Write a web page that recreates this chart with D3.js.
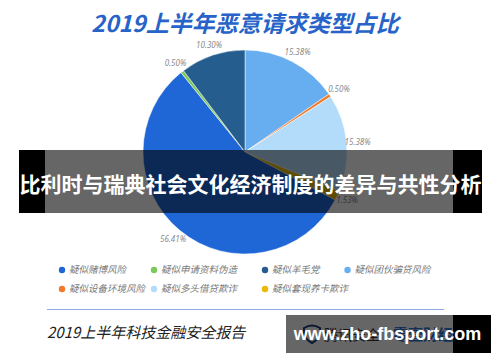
<!DOCTYPE html>
<html>
<head>
<meta charset="utf-8">
<script src="https://cdn.jsdelivr.net/npm/d3@7"></script>
<style>
  body { margin: 0; background: #fff; }
  svg { display: block; }
</style>
</head>
<body>
<script>
// slices, clockwise from 12 o'clock
var categories = ['疑似团伙骗贷风险', '疑似设备环境风险', '疑似多头借贷欺诈', '疑似套现养卡欺诈', '疑似赌博风险', '疑似申请资料伪造', '疑似羊毛党'];
var values = [15.38, 0.50, 15.38, 1.53, 56.41, 0.50, 10.30];
var colors = ['#66aef0', '#f07a2c', '#b3dcfa', '#ecb900', '#1f66d6', '#7cc95a', '#245d8e'];
var legendOrder = ['疑似赌博风险', '疑似申请资料伪造', '疑似羊毛党', '疑似团伙骗贷风险', '疑似设备环境风险', '疑似多头借贷欺诈', '疑似套现养卡欺诈'];

var title = '2019上半年恶意请求类型占比';
var source = '2019上半年科技金融安全报告';
var banner = '比利时与瑞典社会文化经济制度的差异与共性分析';
var watermark = 'www.zho-fbsport.com';

var width = 500, height = 362;
var cx = 245, cy = 152, radius = 102;

var svg = d3.select('body').append('svg')
    .attr('width', width)
    .attr('height', height);

var data = categories.map(function(c, i) { return { name: c, value: values[i] }; });
var color = d3.scaleOrdinal().domain(categories).range(colors);

// title
svg.append('text')
    .attr('x', width / 2 - 5)
    .attr('y', 32)
    .attr('text-anchor', 'middle')
    .attr('font-family', '"Noto Sans CJK SC", sans-serif')
    .attr('font-weight', 'bold')
    .attr('font-style', 'italic')
    .attr('font-size', 23)
    .attr('fill', '#2763c8')
    .text(title);

// pie
var pie = d3.pie().sort(null).value(function(d) { return d.value; });
var arc = d3.arc().innerRadius(0).outerRadius(radius);
var labelArc = d3.arc().innerRadius(radius + 11).outerRadius(radius + 11);

var g = svg.append('g').attr('transform', 'translate(' + cx + ',' + cy + ')');
var arcs = pie(data);

g.selectAll('path')
    .data(arcs).enter()
    .append('path')
    .attr('d', arc)
    .attr('fill', function(d) { return color(d.data.name); })
    .attr('stroke', '#fff')
    .attr('stroke-width', 0.5);

g.selectAll('.lbl')
    .data(arcs).enter()
    .append('text')
    .attr('class', 'lbl')
    .attr('transform', function(d) { return 'translate(' + labelArc.centroid(d) + ')'; })
    .attr('text-anchor', 'middle')
    .attr('dy', '0.35em')
    .attr('font-family', '"Noto Sans", sans-serif')
    .attr('font-style', 'italic')
    .attr('font-size', 8)
    .attr('fill', '#8a8a8a')
    .text(function(d) { return d.data.value.toFixed(2) + '%'; });

// legend: 4 per row, columns set by first row widths
var legend = svg.append('g');
var items = legend.selectAll('g')
    .data(legendOrder).enter()
    .append('g');

items.append('circle')
    .attr('r', 3.2)
    .attr('fill', function(d) { return color(d); });

items.append('text')
    .attr('x', 7)
    .attr('dy', '0.35em')
    .attr('font-family', '"Noto Sans CJK SC", sans-serif')
    .attr('font-style', 'italic')
    .attr('font-size', 9.5)
    .attr('fill', '#7a7a7a')
    .text(function(d) { return d; });

var perRow = 4, colX = [62];
items.filter(function(d, i) { return i < perRow - 1; }).each(function(d, i) {
    var w = this.querySelector('text').getComputedTextLength();
    colX.push(colX[i] + 7 + w + 28);
});
items.attr('transform', function(d, i) {
    return 'translate(' + colX[i % perRow] + ',' + (270 + Math.floor(i / perRow) * 19) + ')';
});

// footer
svg.append('line')
    .attr('x1', 47).attr('x2', 444)
    .attr('y1', 309.5).attr('y2', 309.5)
    .attr('stroke', '#8eaae0')
    .attr('stroke-width', 1);

svg.append('text')
    .attr('x', 47)
    .attr('y', 338)
    .attr('font-family', '"Noto Sans CJK SC", sans-serif')
    .attr('font-style', 'italic')
    .attr('font-size', 15)
    .attr('fill', '#222')
    .text(source);

// logos under the watermark
svg.append('path')
    .attr('d', 'M304,328 q8,-5 16,0 v6 q-2,6 -8,9 q-6,-3 -8,-9 z')
    .attr('fill', 'none')
    .attr('stroke', '#1b3b78')
    .attr('stroke-width', 2);
svg.append('text')
    .attr('x', 324).attr('y', 340)
    .attr('font-family', '"Noto Sans CJK SC", sans-serif')
    .attr('font-size', 14)
    .attr('fill', '#333')
    .text('腾讯安全');
svg.append('text')
    .attr('x', 393).attr('y', 340)
    .attr('font-family', '"Noto Sans CJK SC", sans-serif')
    .attr('font-weight', 'bold')
    .attr('font-size', 15)
    .attr('fill', '#2a78d8')
    .text('零壹财经');

// banner overlay
svg.append('rect').attr('x', 19).attr('y', 150).attr('width', 26).attr('height', 63).attr('fill', '#000');
svg.append('rect').attr('x', 453).attr('y', 150).attr('width', 29).attr('height', 63).attr('fill', '#000');
svg.append('rect').attr('x', 45).attr('y', 150).attr('width', 408).attr('height', 63).attr('fill', 'rgba(0,0,0,0.6)');
svg.append('text')
    .attr('x', 250.5)
    .attr('y', 192)
    .attr('text-anchor', 'middle')
    .attr('font-family', '"Noto Sans CJK SC", sans-serif')
    .attr('font-weight', 'bold')
    .attr('font-size', 21)
    .attr('fill', '#fff')
    .text(banner);

// watermark
svg.append('rect').attr('x', 286).attr('y', 315).attr('width', 167).attr('height', 38).attr('fill', 'rgba(0,0,0,0.6)');
svg.append('rect').attr('x', 453).attr('y', 315).attr('width', 38).attr('height', 38).attr('fill', '#000');
svg.append('text')
    .attr('x', 387.5)
    .attr('y', 340)
    .attr('text-anchor', 'middle')
    .attr('font-family', '"Liberation Sans", Arial, sans-serif')
    .attr('font-weight', 'bold')
    .attr('font-size', 18)
    .attr('fill', '#fff')
    .text(watermark);
</script>
</body>
</html>
